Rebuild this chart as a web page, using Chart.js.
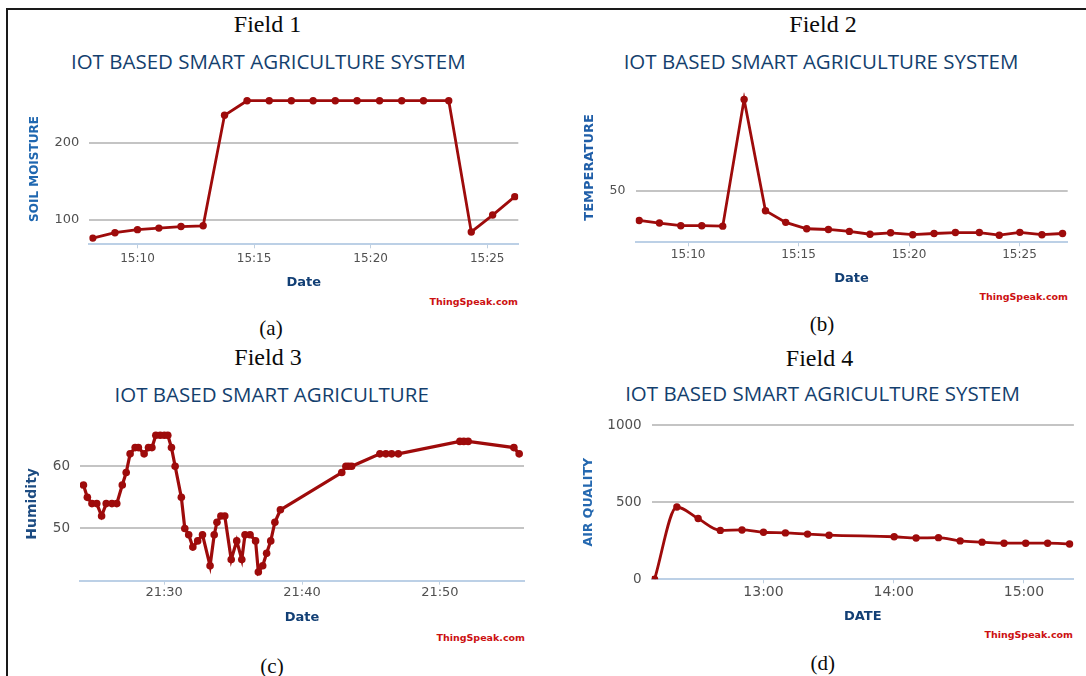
<!DOCTYPE html>
<html>
<head>
<meta charset="utf-8">
<title>IoT based smart agriculture - ThingSpeak fields</title>
<script src="https://cdn.jsdelivr.net/npm/chart.js@4.4.1/dist/chart.umd.min.js"></script>
<style>
  html, body { margin: 0; padding: 0; background: #fff; }
  #page { position: relative; width: 1086px; height: 676px; overflow: hidden; background: #fff; }
  .frame-left { position: absolute; left: 6px; top: 8px; width: 2px; height: 668px; background: #1a1a1a; }
  .frame-top { position: absolute; left: 6px; top: 8px; width: 1080px; height: 2px; background: #1a1a1a; }
  .txt { position: absolute; white-space: nowrap; line-height: 1; transform: translate(-50%, -50%); }
  .field { font-family: "Liberation Serif", serif; font-size: 24px; color: #0a0a0a; }
  .caption { font-family: "Liberation Serif", serif; font-size: 21px; color: #0a0a0a; }
  .title { font-family: "Open Sans", sans-serif; font-size: 20.5px; color: #143f6e; }
  .credit { font-family: "DejaVu Sans", sans-serif; font-size: 9.5px; font-weight: bold; color: #cc1111; transform: translate(-100%, -50%); }
  canvas { position: absolute; }
</style>
</head>
<body>
<div id="page">
  <div class="frame-left"></div>
  <div class="frame-top"></div>
</div>
<script>
// ---- data ----
const FIELD1_TIMES = ["15:08:05", "15:09:02", "15:10:00", "15:10:55", "15:11:52", "15:12:49",
  "15:13:44", "15:14:42", "15:15:39", "15:16:36", "15:17:32", "15:18:29", "15:19:25",
  "15:20:23", "15:21:20", "15:22:16", "15:23:21", "15:24:19", "15:25:14", "15:26:11"];
const FIELD1_SOIL = [76, 83, 87, 89, 91, 92, 236, 255, 255, 255, 255, 255, 255, 255, 255,
  255, 255, 84, 106, 130];

const FIELD2_TIMES = ["15:07:47", "15:08:42", "15:09:40", "15:10:37", "15:11:34", "15:12:32",
  "15:13:30", "15:14:25", "15:15:22", "15:16:21", "15:17:18", "15:18:14", "15:19:10",
  "15:20:10", "15:21:08", "15:22:06", "15:23:11", "15:24:05", "15:25:01", "15:26:01", "15:26:57"];
const FIELD2_TEMP = [37.6, 36.5, 35.4, 35.4, 35.2, 88.6, 41.7, 36.8, 34.1, 33.8, 33.0, 31.8,
  32.4, 31.6, 32.1, 32.5, 32.5, 31.4, 32.6, 31.6, 32.1];

const FIELD3_TIMES = ["21:24:09", "21:24:26", "21:24:46", "21:25:07", "21:25:28", "21:25:48",
  "21:26:13", "21:26:34", "21:26:58", "21:27:15", "21:27:32", "21:27:54", "21:28:08",
  "21:28:33", "21:28:52", "21:29:07", "21:29:24", "21:29:43", "21:30:01", "21:30:16",
  "21:30:32", "21:30:48", "21:31:15", "21:31:30", "21:31:47", "21:32:05", "21:32:26",
  "21:32:47", "21:33:20", "21:33:38", "21:33:50", "21:34:07", "21:34:24", "21:34:52",
  "21:35:16", "21:35:38", "21:35:52", "21:36:14", "21:36:38", "21:36:50", "21:37:09",
  "21:37:26", "21:37:44", "21:38:02", "21:38:26", "21:42:53", "21:43:11", "21:43:23",
  "21:43:36", "21:45:39", "21:46:05", "21:46:30", "21:46:59", "21:51:27", "21:51:44",
  "21:52:03", "21:55:22", "21:55:45"];
const FIELD3_HUMIDITY = [57, 55, 54, 54, 52, 54, 54, 54, 57, 59, 62, 63, 63, 62, 63, 63, 65,
  65, 65, 65, 63, 60, 55, 50, 49, 47, 48, 49, 44, 49, 51, 52, 52, 45, 48, 45, 49, 49, 48,
  43, 44, 46, 48, 51, 53, 59, 60, 60, 60, 62, 62, 62, 62, 64, 64, 64, 63, 62];

const FIELD4_TIMES = ["12:09:48", "12:20:06", "12:29:54", "12:40:06", "12:50:06", "13:00:00",
  "13:10:06", "13:20:18", "13:30:12", "14:00:12", "14:10:18", "14:20:36", "14:30:36",
  "14:40:42", "14:50:48", "15:00:48", "15:10:54", "15:21:00"];
const FIELD4_AIR = [0, 469, 394, 317, 320, 305, 301, 293, 286, 276, 268, 270, 249, 241, 234,
  234, 234, 229];

const FIELD1_X_TICKS = ["15:10", "15:15", "15:20", "15:25"];
const FIELD2_X_TICKS = ["15:10", "15:15", "15:20", "15:25"];
const FIELD3_X_TICKS = ["21:30", "21:40", "21:50"];
const FIELD4_X_TICKS = ["13:00", "14:00", "15:00"];
const SOIL_TICKS = [100, 200];
const TEMP_TICKS = [50];
const HUMIDITY_TICKS = [50, 60];
const AIR_TICKS = [0, 500, 1000];

const LINE_RED = "#9e0b0b";
const TICK_GREY = "#505050";

function toMinutes(hms) {
  const [h, m, s] = hms.split(":").map(Number);
  return h * 60 + m + (s || 0) / 60;
}

function clockLabel(minutes) {
  const total = Math.round(minutes);
  const h = Math.floor(total / 60);
  const m = total % 60;
  return `${String(h).padStart(2, "0")}:${String(m).padStart(2, "0")}`;
}

const page = document.getElementById("page");

function addText(cls, text, x, y) {
  const el = document.createElement("div");
  el.className = "txt " + cls;
  el.textContent = text;
  el.style.left = x + "px";
  el.style.top = y + "px";
  page.appendChild(el);
}

function buildPanel(p) {
  const yTitleLH = p.yTitleSize * 1.2;
  const xTitleLH = 13 * 1.2;
  const left = Math.round(p.yTitleX - yTitleLH / 2);
  const top = Math.round(p.plot.t) - 10;
  const right = Math.round(p.plot.r) + 6;
  const bottom = Math.round(p.xTitleY + xTitleLH / 2);
  const yAxisW = p.plot.l - left;
  const xAxisH = bottom - p.plot.b;

  const canvas = document.createElement("canvas");
  canvas.width = right - left;
  canvas.height = bottom - top;
  canvas.style.left = left + "px";
  canvas.style.top = top + "px";
  page.appendChild(canvas);

  new Chart(canvas, {
    type: "line",
    data: {
      datasets: [{
        data: p.times.map((t, i) => ({ x: toMinutes(t), y: p.values[i] })),
        borderColor: LINE_RED,
        backgroundColor: LINE_RED,
        borderWidth: p.lineWidth,
        pointRadius: p.pointRadius,
        pointBorderWidth: 0,
        pointBackgroundColor: LINE_RED,
        tension: p.smooth ? 0.4 : 0,
        cubicInterpolationMode: p.smooth ? "monotone" : "default",
        fill: false,
      }],
    },
    options: {
      responsive: false,
      animation: false,
      layout: { padding: { top: p.plot.t - top, right: right - p.plot.r, left: 0, bottom: 0 } },
      plugins: { legend: { display: false }, tooltip: { enabled: false } },
      scales: {
        x: {
          type: "linear",
          min: toMinutes(p.xRange[0]),
          max: toMinutes(p.xRange[1]),
          afterBuildTicks: (s) => { s.ticks = p.xTicks.map((v) => ({ value: toMinutes(v) })); },
          afterFit: (s) => { s.height = xAxisH; },
          ticks: {
            callback: (v) => clockLabel(v),
            color: TICK_GREY,
            padding: p.xTickPad,
            maxRotation: 0,
            autoSkip: false,
            font: { family: "'DejaVu Sans', sans-serif", size: p.xTickSize },
          },
          grid: { drawOnChartArea: false, color: "#c0d0e0", tickLength: 4, lineWidth: 1 },
          border: { color: "#bcd0e6", width: 2 },
          title: {
            display: true,
            text: p.xTitle,
            color: "#123f75",
            padding: 0,
            font: { family: "'DejaVu Sans', sans-serif", size: 13, weight: "bold" },
          },
        },
        y: {
          min: p.yRange[0],
          max: p.yRange[1],
          afterBuildTicks: (s) => { s.ticks = p.yTicks.map((v) => ({ value: v })); },
          afterFit: (s) => { s.width = yAxisW; },
          ticks: {
            callback: (v) => String(v),
            color: TICK_GREY,
            padding: 10,
            font: { family: "'DejaVu Sans', sans-serif", size: p.yTickSize },
          },
          grid: { color: "#c4c4c4", lineWidth: 2, drawTicks: false },
          border: { display: false },
          title: {
            display: true,
            text: p.yTitle,
            color: p.yTitleColor,
            padding: 0,
            font: { family: "'DejaVu Sans', sans-serif", size: p.yTitleSize, weight: "bold" },
          },
        },
      },
    },
  });

  addText("field", p.field, p.fieldPos[0], p.fieldPos[1]);
  addText("title", p.title, p.titlePos[0], p.titlePos[1]);
  addText("credit", "ThingSpeak.com", p.creditPos[0], p.creditPos[1]);
  addText("caption", p.caption, p.captionPos[0], p.captionPos[1]);
}

document.addEventListener("DOMContentLoaded", () => {
  buildPanel({
    field: "Field 1", fieldPos: [267.5, 24],
    title: "IOT BASED SMART AGRICULTURE SYSTEM", titlePos: [268.3, 61],
    creditPos: [518, 301.7], caption: "(a)", captionPos: [271, 328],
    plot: { l: 89.3, t: 85.5, r: 518.3, b: 244.3 },
    times: FIELD1_TIMES, values: FIELD1_SOIL,
    xRange: ["15:07:56", "15:26:20"], yRange: [67.9, 264],
    xTicks: FIELD1_X_TICKS, yTicks: SOIL_TICKS,
    xTitle: "Date", xTitleY: 281.7, xTickSize: 12, xTickPad: 3.5,
    yTitle: "SOIL MOISTURE", yTitleX: 35.5, yTitleSize: 12, yTitleColor: "#1f67b0", yTickSize: 13,
    lineWidth: 2.8, pointRadius: 3.7, smooth: false,
  });

  buildPanel({
    field: "Field 2", fieldPos: [823, 24],
    title: "IOT BASED SMART AGRICULTURE SYSTEM", titlePos: [821, 61],
    creditPos: [1068, 297.3], caption: "(b)", captionPos: [822, 324],
    plot: { l: 635.5, t: 84.6, r: 1067.7, b: 242.3 },
    times: FIELD2_TIMES, values: FIELD2_TEMP,
    xRange: ["15:07:37", "15:27:11"], yRange: [28.4, 91.5],
    xTicks: FIELD2_X_TICKS, yTicks: TEMP_TICKS,
    xTitle: "Date", xTitleY: 277.7, xTickSize: 12, xTickPad: 1,
    yTitle: "TEMPERATURE", yTitleX: 589.8, yTitleSize: 13, yTitleColor: "#1f5ea8", yTickSize: 12.5,
    lineWidth: 2.8, pointRadius: 3.7, smooth: false,
  });

  buildPanel({
    field: "Field 3", fieldPos: [268, 357],
    title: "IOT BASED SMART AGRICULTURE", titlePos: [271.7, 394],
    creditPos: [525, 638], caption: "(c)", captionPos: [272, 666],
    plot: { l: 80, t: 418.6, r: 524, b: 580.7 },
    times: FIELD3_TIMES, values: FIELD3_HUMIDITY,
    xRange: ["21:23:54", "21:56:06"], yRange: [41.6, 66.3],
    xTicks: FIELD3_X_TICKS, yTicks: HUMIDITY_TICKS,
    xTitle: "Date", xTitleY: 616.7, xTickSize: 13, xTickPad: 0.5,
    yTitle: "Humidity", yTitleX: 32.7, yTitleSize: 14, yTitleColor: "#1d4c82", yTickSize: 13.5,
    lineWidth: 3.2, pointRadius: 3.8, smooth: false,
  });

  buildPanel({
    field: "Field 4", fieldPos: [819.5, 358],
    title: "IOT BASED SMART AGRICULTURE SYSTEM", titlePos: [822.5, 392.5],
    creditPos: [1073, 635], caption: "(d)", captionPos: [822.7, 663],
    plot: { l: 651.7, t: 417.3, r: 1073.9, b: 579.3 },
    times: FIELD4_TIMES, values: FIELD4_AIR,
    xRange: ["12:08:30", "15:23:00"], yRange: [0, 1000],
    xTicks: FIELD4_X_TICKS, yTicks: AIR_TICKS,
    xTitle: "DATE", xTitleY: 616, xTickSize: 14, xTickPad: 1,
    yTitle: "AIR QUALITY", yTitleX: 588.7, yTitleSize: 12.5, yTitleColor: "#2468b0", yTickSize: 13.5,
    lineWidth: 2.8, pointRadius: 3.7, smooth: true,
  });
});
</script>
</body>
</html>
